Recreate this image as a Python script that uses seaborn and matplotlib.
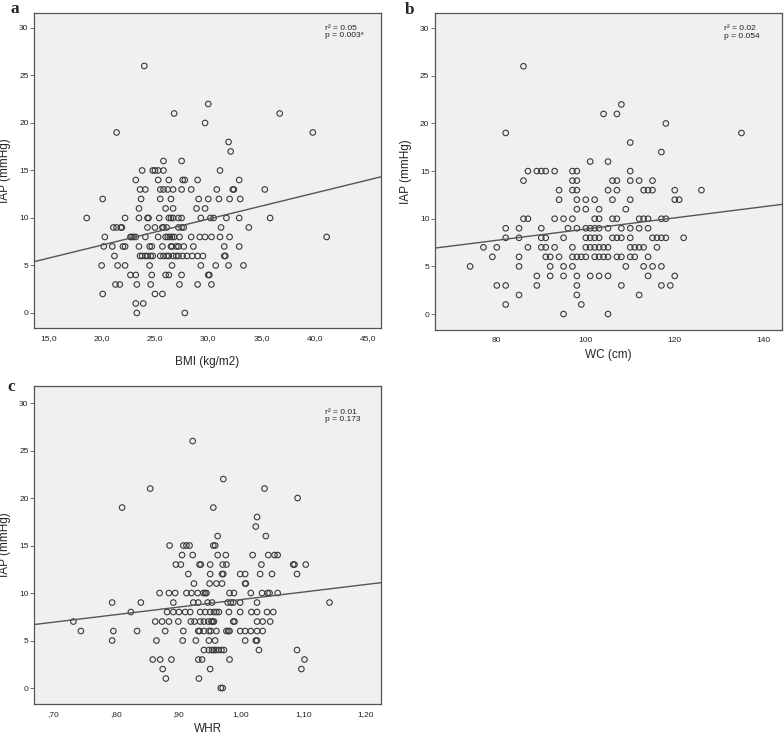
import pandas as pd
import matplotlib
matplotlib.use("Agg")
import matplotlib.pyplot as plt
import seaborn as sns

# --- Data: x values grouped by IAP (mmHg) level ---
bmi_by_iap = {
    26: [24.0], 22: [30.0], 21: [26.8, 36.7], 20: [29.7], 19: [21.4, 39.8],
    18: [31.9], 17: [32.1], 16: [25.8, 27.5],
    15: [23.8, 24.8, 25.0, 25.3, 25.8, 31.1],
    14: [23.2, 25.3, 26.3, 27.6, 27.8, 29.0, 32.9],
    13: [23.6, 24.1, 25.5, 25.8, 26.2, 26.7, 27.5, 28.4, 30.8, 32.3, 32.4, 35.3],
    12: [20.1, 23.7, 25.5, 26.5, 29.1, 30.0, 31.0, 32.0, 33.0],
    11: [23.5, 26.0, 26.7, 28.9, 29.7],
    10: [18.6, 22.2, 23.5, 24.3, 24.4, 25.4, 26.3, 26.5, 26.7, 27.2, 27.5,
         29.3, 30.2, 30.5, 31.7, 32.9, 35.8],
    9: [21.1, 21.4, 21.8, 21.9, 24.3, 25.0, 25.7, 25.8, 26.1, 27.2, 27.5,
        27.7, 31.2, 33.8],
    8: [20.3, 22.7, 22.8, 23.0, 23.2, 24.1, 25.3, 26.0, 26.2, 26.4, 26.6,
        26.8, 27.3, 28.4, 29.2, 29.7, 30.3, 31.1, 32.0, 41.1],
    7: [20.2, 21.0, 22.0, 22.2, 23.5, 24.5, 24.7, 25.7, 26.5, 26.6, 27.0,
        27.2, 27.7, 28.6, 31.5, 32.9],
    6: [21.2, 23.6, 23.8, 24.1, 24.3, 24.6, 24.8, 25.5, 25.8, 26.1, 26.3,
        26.7, 27.0, 27.2, 27.6, 28.0, 28.5, 29.0, 29.5, 31.5, 31.6],
    5: [20.0, 21.5, 22.2, 24.5, 26.6, 29.3, 30.7, 31.9, 33.3],
    4: [22.7, 23.2, 24.7, 26.0, 26.3, 27.5, 30.0, 30.1],
    3: [21.3, 21.7, 23.3, 24.6, 27.3, 29.0, 30.3],
    2: [20.1, 25.0, 25.7], 1: [23.2, 23.9], 0: [23.3, 27.8],
}

wc_by_iap = {
    26: [86], 22: [108], 21: [104, 107], 20: [118], 19: [82, 135],
    18: [110], 17: [117], 16: [101, 105],
    15: [87, 89, 90, 91, 93, 97, 98, 110],
    14: [86, 97, 98, 106, 107, 110, 112, 115],
    13: [94, 97, 98, 105, 107, 113, 114, 115, 120, 126],
    12: [94, 98, 100, 102, 106, 110, 120, 121],
    11: [98, 100, 103, 109],
    10: [86, 87, 93, 95, 97, 102, 103, 106, 107, 112, 113, 114, 117, 118],
    9: [82, 85, 90, 96, 98, 100, 101, 102, 103, 105, 108, 110, 112, 114],
    8: [82, 85, 90, 91, 95, 100, 101, 102, 103, 106, 107, 108, 110, 115,
        116, 117, 118, 122],
    7: [77, 80, 87, 90, 91, 93, 97, 100, 101, 102, 103, 104, 105, 110,
        111, 112, 113, 116],
    6: [79, 85, 91, 92, 94, 97, 98, 99, 100, 102, 103, 104, 105, 107,
        108, 110, 111, 114],
    5: [74, 85, 92, 95, 97, 109, 113, 115, 117],
    4: [89, 92, 95, 98, 101, 103, 105, 114, 120],
    3: [80, 82, 89, 98, 108, 117, 119],
    2: [85, 98, 112], 1: [82, 99], 0: [95, 105],
}

whr_by_iap = {
    26: [0.923], 22: [0.972], 21: [0.855, 1.038], 20: [1.091],
    19: [0.810, 0.956], 18: [1.026], 17: [1.024], 16: [0.963, 1.040],
    15: [0.886, 0.908, 0.913, 0.918, 0.956, 0.959],
    14: [0.906, 0.923, 0.963, 0.976, 1.019, 1.044, 1.054, 1.059],
    13: [0.896, 0.904, 0.934, 0.936, 0.951, 0.971, 0.977, 1.033, 1.084,
         1.086, 1.104],
    12: [0.916, 0.951, 0.970, 0.972, 0.999, 1.007, 1.031, 1.050, 1.090],
    11: [0.925, 0.950, 0.961, 0.970, 1.007, 1.008],
    10: [0.870, 0.885, 0.895, 0.913, 0.921, 0.931, 0.940, 0.943, 0.945,
         0.982, 0.989, 1.016, 1.034, 1.043, 1.046, 1.059],
    9: [0.794, 0.840, 0.892, 0.924, 0.932, 0.947, 0.954, 0.979, 0.984,
        0.988, 0.999, 1.026, 1.142],
    8: [0.824, 0.882, 0.892, 0.901, 0.911, 0.919, 0.935, 0.943, 0.951,
        0.957, 0.961, 0.965, 0.981, 0.999, 1.017, 1.026, 1.042, 1.052],
    7: [0.732, 0.863, 0.874, 0.885, 0.900, 0.920, 0.926, 0.935, 0.941,
        0.948, 0.953, 0.955, 0.957, 0.988, 0.990, 1.026, 1.035, 1.047],
    6: [0.744, 0.796, 0.834, 0.879, 0.908, 0.932, 0.934, 0.941, 0.949,
        0.952, 0.961, 0.977, 0.980, 0.982, 0.999, 1.007, 1.016, 1.026, 1.035],
    5: [0.794, 0.865, 0.907, 0.928, 0.949, 0.959, 1.007, 1.024, 1.026],
    4: [0.941, 0.949, 0.954, 0.957, 0.960, 0.964, 0.969, 0.973, 1.029, 1.090],
    3: [0.859, 0.871, 0.889, 0.932, 0.938, 0.982, 1.102],
    2: [0.875, 0.951, 1.097], 1: [0.880, 0.933], 0: [0.968, 0.971],
}

panel_letters = ["a", "b", "c"]
x_labels = ["BMI (kg/m2)", "WC (cm)", "WHR"]
stats_text = ["r² = 0.05\np = 0.003*", "r² = 0.02\np = 0.054", "r² = 0.01\np = 0.173"]

bmi_ticks = [15, 20, 25, 30, 35, 40, 45]
bmi_ticklabels = ["15,0", "20,0", "25,0", "30,0", "35,0", "40,0", "45,0"]
wc_ticks = [80, 100, 120, 140]
wc_ticklabels = ["80", "100", "120", "140"]
whr_ticks = [0.70, 0.80, 0.90, 1.00, 1.10, 1.20]
whr_ticklabels = [",70", ",80", ",90", "1,00", "1,10", "1,20"]
iap_ticks = [0, 5, 10, 15, 20, 25, 30]


def to_frame(rows, xname):
    recs = [(x, iap) for iap, xs in rows.items() for x in xs]
    return pd.DataFrame(recs, columns=[xname, "IAP"])


df_a = to_frame(bmi_by_iap, "BMI")
df_b = to_frame(wc_by_iap, "WC")
df_c = to_frame(whr_by_iap, "WHR")

# --- Style ---
sns.set_theme(style="ticks")
plt.rcParams["font.family"] = ["Liberation Sans", "DejaVu Sans"]
plt.rcParams["axes.facecolor"] = "#f0f0f0"
plt.rcParams["axes.edgecolor"] = "#555555"

fig = plt.figure(figsize=(7.84, 7.37), dpi=100)
ax_a = fig.add_axes([0.0434, 0.555, 0.4426, 0.4274])
ax_b = fig.add_axes([0.5548, 0.5522, 0.4426, 0.430])
ax_c = fig.add_axes([0.0434, 0.0448, 0.4426, 0.4315])

# ax, data, x column, xlim, ylim, ticks, ticklabels, stats pos, xlabel pad, letter pos
panels = [
    (ax_a, df_a, "BMI", (13.66, 46.2), (-1.58, 31.58), bmi_ticks, bmi_ticklabels,
     (0.839, 0.962), 10, (-0.069, 1.0)),
    (ax_b, df_b, "WC", (66.1, 144.1), (-1.68, 31.58), wc_ticks, wc_ticklabels,
     (0.833, 0.962), 3.5, (-0.086, 0.997)),
    (ax_c, df_c, "WHR", (0.669, 1.2245), (-1.68, 31.8), whr_ticks, whr_ticklabels,
     (0.839, 0.928), 3.5, (-0.078, 0.984)),
]

for i, (ax, df, xcol, xlim, ylim, xt, xtl, txtpos, lpad, letpos) in enumerate(panels):
    ax.set_xlim(*xlim)
    ax.set_ylim(*ylim)
    sns.regplot(data=df, x=xcol, y="IAP", ax=ax, ci=None, truncate=False,
                scatter_kws=dict(facecolors="none", edgecolors="#3a3a3a",
                                 s=16, linewidths=0.8, alpha=1),
                line_kws=dict(color="#555555", lw=1.0))
    ax.set_xlim(*xlim)
    ax.set_ylim(*ylim)
    ax.set_xticks(xt)
    ax.set_xticklabels(xtl)
    ax.set_yticks(iap_ticks)
    ax.tick_params(axis="x", length=0, pad=5, labelsize=6, colors="#222222")
    ax.tick_params(axis="y", length=3, width=0.6, pad=1, labelsize=6,
                   colors="#222222", color="#555555")
    for s in ax.spines.values():
        s.set_linewidth(0.9)
        s.set_color("#555555")
    ax.set_xlabel(x_labels[i], fontsize=8.5, labelpad=lpad)
    ax.set_ylabel("IAP (mmHg)", fontsize=8.5, labelpad=6)
    ax.text(txtpos[0], txtpos[1], stats_text[i], transform=ax.transAxes,
            fontsize=6, va="top", ha="left", color="#222222", linespacing=1.1)
    ax.text(letpos[0], letpos[1], panel_letters[i], transform=ax.transAxes,
            fontsize=12.5, fontweight="bold", family="Liberation Serif",
            ha="left", va="baseline")

fig.savefig("out.png", dpi=100)
